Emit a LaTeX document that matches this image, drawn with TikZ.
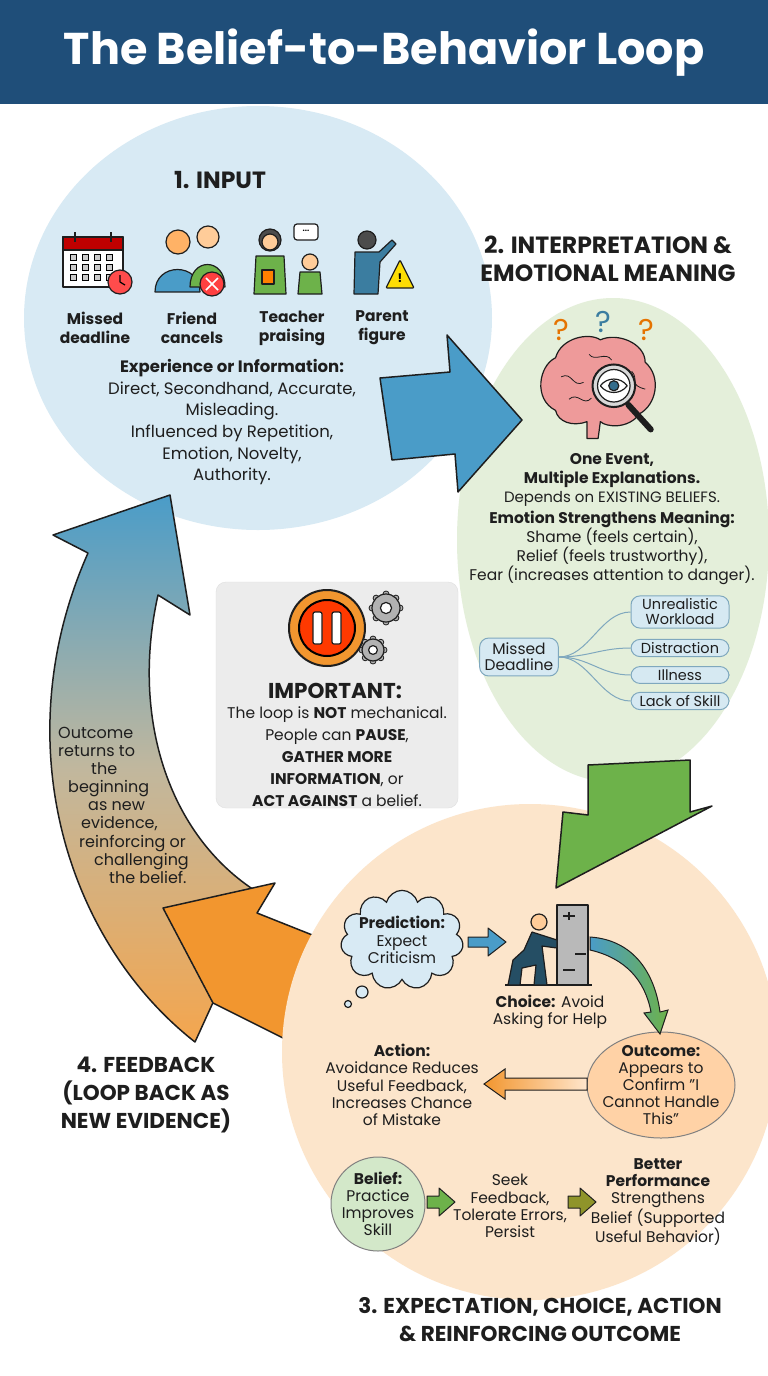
\documentclass[tikz,border=0pt]{standalone}
\usepackage{fontspec}
\setmainfont{Poppins}
\newfontfamily\pop{Poppins}
\usetikzlibrary{shapes.geometric,shapes.symbols,arrows.meta,shadings}
\definecolor{navy}{HTML}{1F4E79}
\definecolor{cblue}{HTML}{D8EAF4}
\definecolor{cgreen}{HTML}{E4EFDA}
\definecolor{cpeach}{HTML}{FCE5CB}
\definecolor{ablue}{HTML}{4A9CC8}
\definecolor{agreen}{HTML}{6DB24A}
\definecolor{aorange}{HTML}{F2962F}
\definecolor{tagfill}{HTML}{D6E9F2}
\definecolor{tagline}{HTML}{7FA8BE}
\definecolor{ink}{HTML}{1E1E1E}
\definecolor{brain}{HTML}{EE9A9A}
\tikzset{
 body/.style={font=\fontsize{16.5}{21.6}\selectfont,align=center,text=ink},
 head/.style={font=\pop\bfseries\fontsize{21.5}{28}\selectfont,align=center,text=ink},
 lbl/.style={font=\pop\bfseries\fontsize{15.5}{19}\selectfont,align=center,text=ink},
 tag/.style={draw=tagline,fill=tagfill,rounded corners=9pt,line width=1pt,font=\fontsize{14.5}{15}\selectfont,align=center,inner sep=3pt,minimum width=98pt,text=ink},
 bigarrow/.style={draw=ink,line width=1.5pt,line join=round},
 small/.style={draw=ink,line width=1.2pt,line join=round},
 sm/.style={body,font=\fontsize{15.5}{17.2}\selectfont}
}
\begin{document}
\begin{tikzpicture}[x=1pt,y=-1pt]
\useasboundingbox (0,0) rectangle (768,1376);
\fill[white] (0,0) rectangle (768,1376);
\fill[navy] (0,0) rectangle (768,104);
\node[font=\pop\bfseries\fontsize{44.5}{48}\selectfont,text=white] (title) at (384,53) {The Belief-to-Behavior Loop};

% circles
\path[fill=cblue] (258,318) ellipse (234 and 212) coordinate (c1);
\path[fill=cgreen] (613,540) ellipse (156 and 242) coordinate (c2);

% big left gradient arrow
\shade[top color=ablue,bottom color=aorange!85,middle color=ablue!45!aorange!70,draw=ink,line width=1.5pt,line join=round]
 (195,1042) .. controls (65,940) and (5,740) .. (88,553) -- (53,535) -- (170,495) -- (190,615) -- (158,595)
 .. controls (130,720) and (170,840) .. (262,895) -- cycle;
% orange arrowhead
\path[bigarrow,fill=aorange] (163,908) -- (275,883) -- (257,913) -- (345,948) -- (330,1060) -- (287,1040) -- (213,1003) -- cycle;
\path[fill=cpeach] (530,1052) circle (248) coordinate (c3);

% blue arrow
\path[bigarrow,fill=ablue] (380,378) -- (450,372) -- (447,335) -- (522,420) -- (458,492) -- (455,454) -- (392,460) -- cycle;
% green arrow
\path[bigarrow,fill=agreen] (588,765) -- (690,760) -- (690,812) -- (712,806) -- (556,888) -- (563,812) -- (588,815) -- cycle;

% ---- section 1
\node[head,font=\pop\bfseries\fontsize{23.5}{28}\selectfont] (h1) at (220,180) {1. INPUT};
% calendar
\begin{scope}[shift={(95,262)}]
 \draw[small,fill=white] (-32,-25) rectangle (28,25);
 \draw[small,fill=red!75!black] (-32,-25) rectangle (28,-12);
 \foreach \i in {-22,-10,2,14}{\foreach \j in {-5,5,15}{\draw[fill=gray!40,line width=.6pt] (\i-3,\j-3) rectangle (\i+3,\j+3);}}
 \draw[small,fill=red!70] (25,20) circle (12);
 \draw[line width=1.2pt] (25,20) -- (25,13) (25,20) -- (30,23);
 \draw[small] (-20,-30) -- (-20,-20) (16,-30) -- (16,-20);
\end{scope}
% friends
\begin{scope}[shift={(190,262)}]
 \draw[small,fill=orange!60] (-12,-20) circle (12);
 \draw[small,fill=ablue] (-35,30) .. controls (-35,0) and (10,0) .. (10,30) -- cycle;
 \draw[small,fill=orange!40] (18,-25) circle (11);
 \draw[small,fill=agreen] (0,25) .. controls (0,-5) and (35,-5) .. (35,25) -- cycle;
 \draw[small,fill=red!75] (22,22) circle (12);
 \draw[white,line width=1.5pt] (16,16) -- (28,28) (16,28) -- (28,16);
\end{scope}
% teacher
\begin{scope}[shift={(292,262)}]
 \draw[small,fill=black!70] (-22,-22) circle (11);
 \draw[small,fill=orange!40] (-22,-20) circle (8);
 \draw[small,fill=agreen] (-38,32) -- (-36,-6) -- (-8,-6) -- (-6,32) -- cycle;
 \draw[small,fill=orange] (-30,8) rectangle (-18,22);
 \draw[small,fill=white,rounded corners=3pt] (2,-38) rectangle (26,-22);
 \node[font=\bfseries\fontsize{8}{8}\selectfont] (dots) at (14,-31) {...};
 \draw[small,fill=orange!40] (18,0) circle (8);
 \draw[small,fill=agreen] (6,32) -- (8,10) -- (28,10) -- (30,32) -- cycle;
\end{scope}
% parent
\begin{scope}[shift={(382,262)}]
 \draw[small,fill=black!70] (-15,-22) circle (9);
 \draw[small,fill=ablue!80!black] (-28,32) -- (-27,-10) -- (-3,-10) -- (10,-22) -- (14,-18) -- (-2,0) -- (-4,32) -- cycle;
 \draw[small,fill=yellow!80!orange,rounded corners=1pt] (18,-2) -- (32,26) -- (4,26) -- cycle;
 \node[font=\bfseries\fontsize{12}{12}\selectfont] (ex) at (18,16) {!};
\end{scope}
\node[lbl] (l1) at (95,328) {Missed\\deadline};
\node[lbl] (l2) at (192,328) {Friend\\cancels};
\node[lbl] (l3) at (292,328) {Teacher\\praising};
\node[lbl] (l4) at (382,328) {Parent\\figure};
\node[body,anchor=north] (t1) at (232,356) {\textbf{Experience or Information:}\\Direct, Secondhand, Accurate,\\Misleading.\\Influenced by Repetition,\\Emotion, Novelty,\\Authority.};

% ---- section 2
\node[head,font=\pop\bfseries\fontsize{23.5}{28}\selectfont] (h2) at (608,259) {2. INTERPRETATION \&\\EMOTIONAL MEANING};
\node[font=\pop\fontsize{30}{30}\selectfont,text=orange!90!black] (q1) at (561,330) {?};
\node[font=\pop\fontsize{30}{30}\selectfont,text=ablue!80!black] (q2) at (603,322) {?};
\node[font=\pop\fontsize{30}{30}\selectfont,text=orange!90!black] (q3) at (646,330) {?};
\begin{scope}[shift={(597,388)},scale=1.12,shift={(-597,-395)}]
\draw[small,fill=brain] (560,415) .. controls (540,405) and (545,375) .. (560,368) .. controls (565,350) and (590,345) .. (600,352) .. controls (615,345) and (640,355) .. (640,372) .. controls (655,385) and (650,410) .. (635,418) .. controls (625,432) and (605,430) .. (600,425) -- (598,440) -- (588,440) -- (588,425) .. controls (575,430) and (562,425) .. (560,415) -- cycle;
\draw[ink,line width=.8pt] (565,385) .. controls (575,380) and (575,395) .. (585,390) (572,405) .. controls (580,398) and (585,412) .. (592,404) (590,365) .. controls (595,372) and (605,362) .. (610,370) (628,380) .. controls (635,388) and (625,392) .. (640,396);
\draw[line width=6pt,ink,line cap=round] (625,410) -- (645,432);
\draw[small,line width=2pt,fill=gray!30] (612,393) circle (19);
\draw[small,fill=white] (612,393) circle (14.5);
\draw[small,fill=white] (600,393) .. controls (606,385) and (618,385) .. (624,393) .. controls (618,401) and (606,401) .. (600,393) -- cycle;
\draw[small,fill=ablue!70!black] (612,393) circle (4.5);
\end{scope}
\node[body,anchor=north,font=\fontsize{15.5}{19}\selectfont] (t2) at (612,450) {\textbf{One Event,}\\\textbf{Multiple Explanations.}\\{\fontsize{15}{19}\selectfont Depends on EXISTING BELIEFS.}\\[2pt]\textbf{Emotion Strengthens Meaning:}\\Shame (feels certain),\\Relief (feels trustworthy),\\Fear (increases attention to danger).};
\node[tag,font=\fontsize{15.5}{16}\selectfont,minimum width=0pt,inner sep=5pt] (md) at (519,657) {Missed\\Deadline};
\node[tag] (b1) at (680,612) {Unrealistic\\Workload};
\node[tag] (b2) at (680,648) {Distraction};
\node[tag] (b3) at (680,675) {Illness};
\node[tag] (b4) at (680,701) {Lack of Skill};
\foreach \b in {b1,b2,b3,b4}{\draw[tagline,line width=1pt] (md.east) .. controls +(30,0) and +(-30,0) .. (\b.west);}

% ---- important box
\node[draw=gray!25,fill=gray!15,rounded corners=10pt,minimum width=242pt,minimum height=226pt] (imp) at (337,695) {};
\draw[small,line width=2pt,fill=aorange] (327,628) circle (38);
\draw[line width=2pt,fill=red!55!orange] (327,628) circle (28);
\draw[small,fill=white,rounded corners=2pt] (313,612) rectangle (322,644);
\draw[small,fill=white,rounded corners=2pt] (332,612) rectangle (341,644);
\foreach \cx/\cy/\r in {386/608/14,373/650/11}{
 \foreach \a in {0,45,...,315}{\fill[gray!60,draw=ink,line width=.8pt] ([shift={(\a:\r)}]\cx,\cy) circle (3);}
 \draw[small,fill=gray!60] (\cx,\cy) circle (\r);
 \draw[small,fill=white] (\cx,\cy) circle (\r/2.5);}
\node[font=\pop\bfseries\fontsize{21.5}{24}\selectfont,text=ink] (impt) at (335,691) {IMPORTANT:};
\node[body,anchor=north,font=\fontsize{15.5}{22}\selectfont] (impb) at (337,703) {The loop is \textbf{NOT} mechanical.\\People can \textbf{PAUSE},\\\textbf{GATHER MORE}\\\textbf{INFORMATION}, or\\\textbf{ACT AGAINST} a belief.};

% ---- left text
\node[body,align=left,anchor=north west,font=\fontsize{16}{18.1}\selectfont,inner sep=0pt] (lt) at (58,727) {Outcome\\returns to\\\hspace*{33pt}the\\\hspace*{10pt}beginning\\\hspace*{30pt}as new\\\hspace*{23pt}evidence,\\\hspace*{21pt}reinforcing or\\\hspace*{36pt}challenging\\\hspace*{51pt}the belief.};
\node[head] (h4) at (146,1095) {4. FEEDBACK\\(LOOP BACK AS\\NEW EVIDENCE)};

% ---- section 3
\node[cloud,cloud puffs=11,aspect=1.4,draw=ink,line width=1.2pt,fill=cblue,sm,inner sep=-4pt] (pred) at (402,940) {\textbf{Prediction:}\\Expect\\Criticism};
\draw[small,fill=cblue] (362,992) circle (6);
\draw[small,fill=cblue] (348,1004) circle (3.5);
\draw[small,fill=ablue,line width=1pt] (468,937) -- (488,937) -- (488,928) -- (506,942) -- (488,956) -- (488,947) -- (468,947) -- cycle;
% person and wall
\draw[small,fill=gray!55] (557,905) rectangle (588,985);
\draw[small] (563,916) -- (575,916) (569,912) -- (569,920) (575,954) -- (586,954) (563,970) -- (575,970);
\draw[small] (505,985) -- (592,985);
\draw[small,fill=orange!40] (539,922) circle (8);
\draw[small,fill=ablue!50!black] (532,932) -- (557,940) -- (557,948) -- (542,946) -- (547,985) -- (534,985) -- (536,965) -- (522,968) -- (520,985) -- (508,985) -- (513,960) -- (524,950) -- cycle;
\node[sm] (choice) at (550,1012) {\textbf{Choice:} Avoid\\Asking for Help};
\node[ellipse,draw=gray,line width=1pt,fill=orange!35,minimum width=148pt,minimum height=106pt,sm,inner sep=-8pt] (out) at (661,1085) {\textbf{Outcome:}\\Appears to\\Confirm "I\\Cannot Handle\\This"};
\shade[left color=ablue,right color=agreen,draw=ink,line width=1pt] (590,937) .. controls (635,940) and (655,975) .. (660,1012) -- (668,1010) -- (660,1034) -- (644,1013) -- (651,1012) .. controls (645,980) and (625,958) .. (590,950) -- cycle;
\shade[left color=aorange,right color=orange!20,draw=ink,line width=1pt] (587,1078) -- (505,1078) -- (505,1069) -- (484,1084) -- (505,1099) -- (505,1090) -- (587,1090) -- cycle;
\node[sm] (act) at (402,1085) {\textbf{Action:}\\Avoidance Reduces\\Useful Feedback,\\Increases Chance\\of Mistake};
\node[circle,draw=gray,line width=1pt,fill=agreen!30,minimum size=94pt,inner sep=-6pt,sm] (bel) at (378,1204) {\textbf{Belief:}\\Practice\\Improves\\Skill};
\node[sm] (seek) at (510,1206) {Seek\\Feedback,\\Tolerate Errors,\\Persist};
\node[sm] (bp) at (658,1202) {\textbf{Better}\\\textbf{Performance}\\Strengthens\\Belief (Supported\\Useful Behavior)};
\draw[small,line width=1pt,fill=agreen] (427,1196) -- (439,1196) -- (439,1188) -- (455,1202) -- (439,1216) -- (439,1208) -- (427,1208) -- cycle;
\draw[small,line width=1pt,fill=olive!60!agreen] (568,1196) -- (580,1196) -- (580,1188) -- (596,1202) -- (580,1216) -- (580,1208) -- (568,1208) -- cycle;
\node[head] (h3) at (540,1320) {3. EXPECTATION, CHOICE, ACTION\\\& REINFORCING OUTCOME};
\end{tikzpicture}
\end{document}
